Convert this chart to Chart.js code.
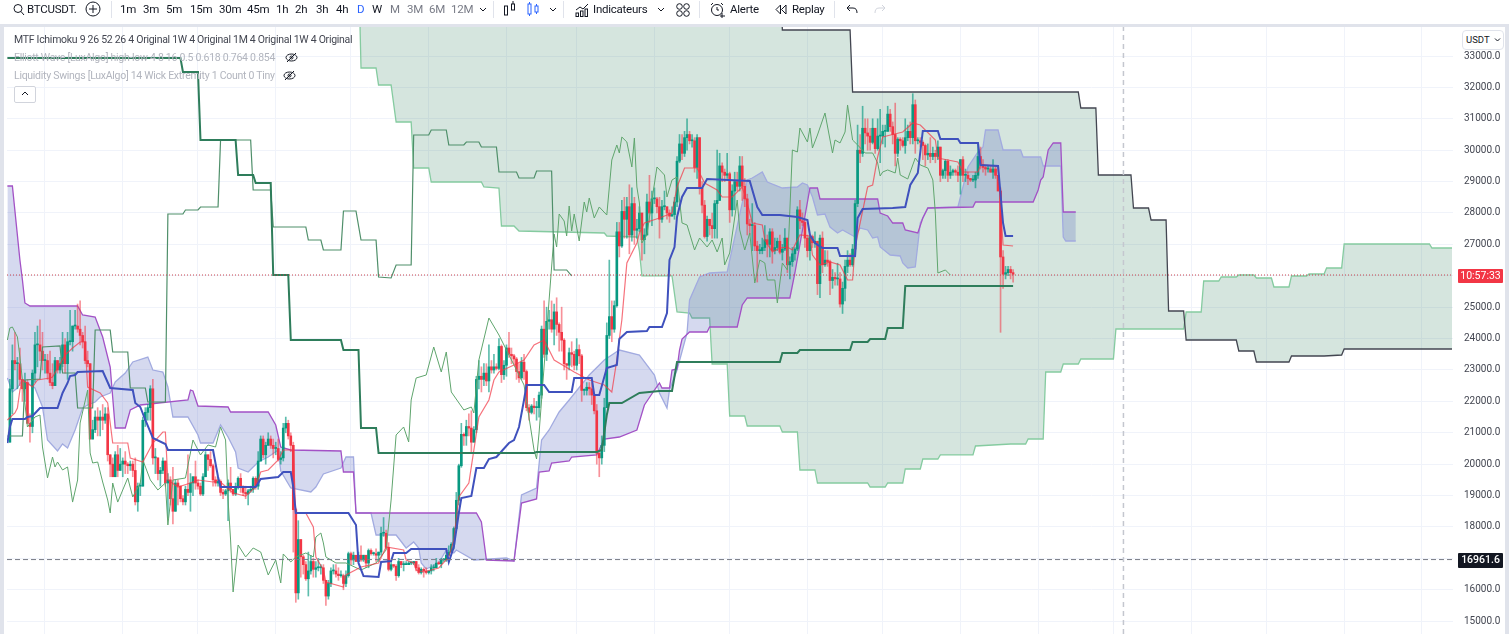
<!DOCTYPE html>
<html>
<head>
<meta charset="utf-8">
<title>BTCUSDT</title>
<script src="https://cdn.jsdelivr.net/npm/chart.js@4/dist/chart.umd.min.js"></script>
<style>
html, body { margin: 0; padding: 0; background: #fff; overflow: hidden; }
body { width: 1509px; height: 634px; position: relative; font-family: Roboto, sans-serif; color: #131722; }
#c { position: absolute; left: 0; top: 0; }
.frame { position: absolute; background: #e0e3eb; }
.t { position: absolute; white-space: nowrap; font-size: 11.5px; letter-spacing: -0.25px; line-height: 14px; top: 2px; }
.sep { position: absolute; top: 1px; width: 1px; height: 17px; background: #e0e3eb; }
.ic { position: absolute; }
.leg { position: absolute; left: 14px; font-size: 10.5px; letter-spacing: -0.28px; line-height: 14px; white-space: nowrap; color: #b2b5be; }
.tag { position: absolute; left: 1458px; width: 45px; height: 14px; line-height: 14px; font-size: 10.5px; color: #fff; text-align: center; border-radius: 1px; }
</style>
</head>
<body>
<canvas id="c" width="1509" height="651"></canvas>
<div class="frame" style="left:0;top:24px;width:1509px;height:3px"></div>
<div class="frame" style="left:0;top:24px;width:4px;height:610px"></div>
<div class="frame" style="left:1505px;top:24px;width:4px;height:610px"></div>

<svg class="ic" style="left:13px;top:3px" width="12" height="13" viewBox="0 0 12 13" fill="none" stroke="#131722"><circle cx="5" cy="5.5" r="4"/><path d="M8 8.5l3 3.5"/></svg>
<div class="t" style="left:27px">BTCUSDT.</div>
<svg class="ic" style="left:85px;top:1px" width="16" height="16" viewBox="0 0 16 16" fill="none" stroke="#131722"><circle cx="8" cy="8" r="7"/><path d="M8 4v8M4 8h8"/></svg>
<div class="sep" style="left:111px"></div>
<div id="intervals"></div>
<svg class="ic" style="left:479px;top:7px" width="8" height="5" viewBox="0 0 8 5" fill="none" stroke="#131722"><path d="M1 1l3 3 3-3"/></svg>
<div class="sep" style="left:493px"></div>
<svg class="ic" style="left:504px;top:1px" width="12" height="16" viewBox="0 0 12 16" fill="none" stroke="#131722"><rect x="0.5" y="5" width="3" height="9"/><rect x="7.5" y="3" width="3" height="6"/><path d="M9 0v3"/></svg>
<svg class="ic" style="left:527px;top:1px" width="12" height="16" viewBox="0 0 12 16" fill="none" stroke="#2962ff"><rect x="1" y="3" width="3" height="10"/><path d="M2.500 1v2M2.500 13v2"/><rect x="8" y="5" width="3" height="6"/><path d="M9.500 3v2M9.500 11v2"/></svg>
<svg class="ic" style="left:549px;top:7px" width="8" height="5" viewBox="0 0 8 5" fill="none" stroke="#131722"><path d="M1 1l3 3 3-3"/></svg>
<div class="sep" style="left:563px"></div>
<svg class="ic" style="left:575px;top:2px" width="14" height="15" viewBox="0 0 14 15" fill="none" stroke="#131722"><path d="M1 8l4-3 3 2 5-5"/><rect x="1" y="11" width="2.500" height="3.500"/><rect x="5.500" y="9" width="2.500" height="5.500"/><rect x="10" y="7" width="2.500" height="7.500"/></svg>
<div class="t" style="left:593px">Indicateurs</div>
<svg class="ic" style="left:657px;top:7px" width="8" height="5" viewBox="0 0 8 5" fill="none" stroke="#131722"><path d="M1 1l3 3 3-3"/></svg>
<svg class="ic" style="left:676px;top:3px" width="14" height="14" viewBox="0 0 14 14" fill="none" stroke="#131722"><circle cx="3.500" cy="3.500" r="2.800"/><circle cx="10.500" cy="3.500" r="2.800"/><circle cx="3.500" cy="10.500" r="2.800"/><circle cx="10.500" cy="10.500" r="2.800"/></svg>
<div class="sep" style="left:699px"></div>
<svg class="ic" style="left:710px;top:2px" width="16" height="16" viewBox="0 0 16 16" fill="none" stroke="#131722"><circle cx="7" cy="8" r="5.500"/><path d="M7 5v3h2M1 3l2-2M11 1l2 2M12 11v5M10 14h5"/></svg>
<div class="t" style="left:730px">Alerte</div>
<svg class="ic" style="left:775px;top:4px" width="12" height="11" viewBox="0 0 12 11" fill="none" stroke="#131722"><path d="M5.500 1L1 5.500 5.500 10zM11 1L6.500 5.500 11 10z"/></svg>
<div class="t" style="left:792px">Replay</div>
<div class="sep" style="left:834px"></div>
<svg class="ic" style="left:846px;top:4px" width="12" height="11" viewBox="0 0 12 11" fill="none" stroke="#131722"><path d="M4 1L1 4l3 3M1 4h6c3 0 4 2 4 5"/></svg>
<svg class="ic" style="left:874px;top:4px" width="12" height="11" viewBox="0 0 12 11" fill="none" stroke="#d1d4dc"><path d="M8 1l3 3-3 3M11 4H5C2 4 1 6 1 9"/></svg>

<div class="leg" style="top:33px;color:#434651">MTF Ichimoku 9 26 52 26 4 Original 1W 4 Original 1M 4 Original 1W 4 Original</div>
<div class="leg" style="top:51px">Elliott Wave [LuxAlgo] high-low 4 8 16 0.5 0.618 0.764 0.854</div>
<svg class="ic" style="left:285px;top:52px" width="13" height="11" viewBox="0 0 13 11" fill="none" stroke="#131722"><ellipse cx="6.500" cy="5.500" rx="5.500" ry="3.500"/><circle cx="6.500" cy="5.500" r="1.500"/><path d="M2 10L11 1"/></svg>
<div class="leg" style="top:69px">Liquidity Swings [LuxAlgo] 14 Wick Extremity 1 Count 0 Tiny</div>
<svg class="ic" style="left:283px;top:70px" width="13" height="11" viewBox="0 0 13 11" fill="none" stroke="#131722"><ellipse cx="6.500" cy="5.500" rx="5.500" ry="3.500"/><circle cx="6.500" cy="5.500" r="1.500"/><path d="M2 10L11 1"/></svg>
<div class="ic" style="left:14px;top:86px;width:20px;height:15px;border:1px solid #d1d4dc;border-radius:2px;background:#fff"></div>
<svg class="ic" style="left:21px;top:91px" width="8" height="5" viewBox="0 0 8 5" fill="none" stroke="#131722"><path d="M1 4l3-3 3 3"/></svg>

<div class="ic" style="left:1462px;top:30px;width:40px;height:18px;border:1px solid #e0e3eb;border-radius:4px;background:#fff;font-size:9.500px;line-height:18px;text-indent:3px">USDT</div>
<svg class="ic" style="left:1494px;top:38px" width="7" height="4" viewBox="0 0 7 4" fill="none" stroke="#131722"><path d="M1 .5l2.500 2.500L6 .5"/></svg>
<div class="tag" style="top:269px;background:#f23645">10:57:33</div>
<div class="tag" style="top:553px;height:15px;background:#131722;font-weight:500">16961.6</div>

<script>
// Bougies journalières, du 18/07/2022 au 22/08/2023, en milliers d'USDT
const closes = [
  22.4,23.3,23.2,23.2,22.7,22.4,22.6,21.3,21.2,22.9,23.8,23.8,23.6,23.3,
  23.3,22.9,22.6,22.5,23.3,23.0,23.2,23.8,23.2,23.9,23.9,24.4,24.4,24.3,24.1,23.9,23.3,23.2,20.8,21.1,21.5,21.4,21.5,21.4,21.6,20.3,20.0,19.6,20.3,19.8,20.0,
  20.1,20.0,19.95,20.0,19.8,18.8,19.3,19.3,21.4,21.65,21.8,22.4,20.2,20.2,19.7,19.8,20.1,19.4,19.5,18.9,18.5,19.4,19.3,18.9,18.8,19.2,19.1,19.4,19.6,19.4,
  19.3,19.05,19.6,20.3,20.15,19.95,19.5,19.4,19.45,19.1,19.05,19.15,19.4,19.2,19.05,19.25,19.55,19.3,19.1,19.05,19.15,19.2,19.55,19.3,20.1,20.8,20.3,20.6,20.8,20.6,20.5,
  20.5,20.15,20.2,21.15,21.3,20.9,20.6,18.55,15.9,17.6,17.05,16.8,16.35,16.6,16.9,16.65,16.7,16.7,16.7,16.3,15.8,16.2,16.6,16.6,16.5,16.45,16.45,16.2,16.45,17.15,
  16.95,17.1,16.9,17.1,16.95,17.1,16.85,17.25,17.15,17.15,17.1,17.2,17.8,17.8,17.35,16.65,16.8,16.75,16.45,16.9,16.8,16.8,16.8,16.85,16.85,16.9,16.7,16.55,16.65,16.6,16.55,
  16.6,16.7,16.7,16.85,16.83,16.95,16.95,17.1,17.2,17.45,17.95,18.85,19.95,20.95,20.9,21.2,21.15,20.7,21.1,22.7,22.8,22.7,22.9,22.65,23.1,23.0,23.1,23.05,23.75,22.85,23.15,
  23.7,23.5,23.45,23.35,22.95,22.75,23.25,22.95,21.8,21.65,21.85,21.8,21.8,22.2,24.3,23.5,24.55,24.6,24.3,24.85,24.45,24.2,23.95,23.2,23.15,23.55,23.5,23.15,
  23.65,23.45,22.35,22.35,22.45,22.4,22.2,21.7,20.35,20.2,20.6,21.8,24.1,24.7,24.3,25.05,27.4,26.95,28.05,27.8,28.2,27.3,28.3,27.45,27.5,28.0,27.15,27.3,28.35,28.0,28.45,
  28.45,28.2,27.8,28.2,28.2,28.0,27.9,27.95,28.35,29.65,30.2,29.9,30.4,30.5,30.3,30.3,29.45,30.4,28.8,28.25,27.25,27.8,27.6,27.5,28.3,28.4,29.5,29.3,29.2,29.25,
  28.1,28.7,29.0,28.85,29.5,28.85,28.45,27.65,27.6,27.6,26.95,26.8,26.8,26.9,27.15,27.0,27.4,26.8,26.9,27.1,26.75,26.85,27.2,26.35,26.45,26.7,26.85,28.1,27.75,27.7,27.2,
  26.8,27.25,27.05,27.1,25.75,27.2,26.35,26.5,26.45,25.85,25.95,25.9,25.9,25.1,25.6,26.3,26.5,26.35,26.85,28.3,30.0,29.9,30.7,30.55,30.45,30.25,30.7,30.05,30.45,30.45,
  30.6,30.6,31.15,30.75,30.5,29.9,30.35,30.3,30.15,30.4,30.6,30.4,31.45,30.3,30.3,30.25,30.15,29.85,29.9,29.8,29.9,29.8,30.1,29.2,29.35,29.65,29.2,29.3,29.35,29.3,29.2,
  29.7,29.2,29.2,29.1,29.05,29.05,29.2,29.8,29.55,29.45,29.4,29.4,29.3,29.4,29.2,28.7,26.6,26.05,26.1,26.2,26.1,26.05
];
const highs = [
  22.7,23.8,24.2,23.4,23.7,22.7,22.9,22.7,21.6,23.0,24.2,24.4,24.6,24.2,
  23.5,23.5,23.6,23.2,23.4,23.3,23.4,24.2,24.0,24.2,24.9,24.4,24.9,25.1,25.2,24.2,24.4,23.6,23.2,21.4,21.7,21.8,21.7,21.9,21.8,21.8,20.3,20.2,20.4,20.6,20.5,
  20.2,20.4,20.05,20.1,20.1,20.2,19.4,19.4,21.5,21.8,21.9,22.5,22.7,20.5,20.2,19.9,20.2,20.1,19.7,19.6,19.9,19.5,19.5,19.3,19.0,19.3,20.3,19.7,19.6,20.1,
  19.5,19.4,19.7,20.4,20.3,20.4,20.0,19.6,19.6,19.5,19.2,19.2,19.5,19.9,19.2,19.4,19.6,19.7,19.3,19.3,19.2,19.3,19.6,19.6,20.4,20.9,20.9,20.7,21.0,20.9,20.8,
  20.7,20.8,20.4,21.3,21.5,21.4,21.0,20.7,18.6,18.2,17.6,17.1,16.9,17.2,17.1,17.0,16.9,17.0,16.8,16.8,16.3,16.3,16.7,16.8,16.8,16.7,16.6,16.5,16.6,17.2,
  17.2,17.2,17.1,17.2,17.4,17.1,17.1,17.3,17.3,17.2,17.3,17.2,18.0,18.3,17.9,17.5,16.9,16.8,16.8,17.0,16.9,16.9,16.9,16.9,16.9,16.9,16.9,16.8,16.7,16.7,16.7,
  16.6,16.8,16.8,17.0,16.9,17.0,17.0,17.2,17.4,17.5,18.0,19.1,20.0,21.3,21.0,21.4,21.6,21.7,21.2,22.8,23.3,23.1,23.2,23.2,23.8,23.3,23.5,23.2,24.0,23.8,23.3,
  23.8,24.2,23.7,23.5,23.4,23.2,23.4,23.5,23.0,21.9,21.9,22.1,22.0,22.3,24.4,25.2,25.0,24.9,25.2,25.1,25.3,24.5,25.0,24.0,23.2,23.7,23.9,23.6,
  24.0,23.8,23.5,22.4,22.6,22.6,22.6,22.0,21.9,20.4,20.9,22.1,24.5,26.5,25.2,25.2,27.7,27.7,28.4,28.5,28.5,28.9,28.8,28.5,27.8,28.2,28.0,27.5,28.6,29.2,28.7,
  28.8,28.5,28.5,28.4,28.7,28.2,28.1,28.2,28.5,29.8,30.5,30.5,30.6,31.0,30.6,30.5,30.4,30.5,30.4,29.0,28.4,27.9,27.8,28.0,28.4,30.0,29.9,29.6,29.4,29.9,
  29.3,28.9,29.3,29.3,29.8,29.8,29.1,28.6,27.8,28.3,27.7,27.1,27.0,27.2,27.6,27.3,27.5,27.5,27.2,27.2,27.3,27.0,27.5,27.2,26.6,26.9,26.9,28.2,28.4,28.0,27.8,
  27.3,27.3,27.3,27.4,27.1,27.3,27.4,26.8,26.8,26.5,26.2,26.1,26.4,26.1,25.8,26.5,26.8,26.7,27.0,28.4,30.8,30.5,31.4,31.0,31.0,30.7,31.0,30.7,31.0,31.3,
  30.8,30.8,31.4,31.3,30.9,31.5,30.4,30.4,30.4,31.0,30.8,30.9,31.8,31.6,30.4,30.4,30.3,30.2,30.2,30.4,30.1,30.0,30.3,30.1,29.4,29.7,29.7,29.5,29.4,29.4,29.5,
  29.7,29.8,29.4,29.3,29.1,29.2,29.3,30.2,30.1,29.7,29.5,29.5,29.5,29.7,29.5,29.2,28.8,26.8,26.3,26.3,26.3,26.2
];
const lows = [
  20.7,21.6,23.0,22.4,22.5,22.0,22.0,21.3,20.7,21.0,22.6,23.1,23.3,23.0,
  22.9,22.7,22.5,22.4,22.5,22.9,22.9,23.1,22.9,22.7,23.8,23.6,24.3,24.2,23.8,23.7,23.2,23.1,20.8,20.8,21.0,20.9,20.9,21.1,21.3,20.1,19.6,19.7,19.6,19.6,19.9,
  19.6,19.7,19.7,19.8,19.6,18.7,18.5,19.0,19.3,21.2,21.4,21.4,20.0,19.7,19.5,19.3,19.7,19.3,18.3,18.7,18.1,18.5,18.7,18.8,18.7,18.7,19.0,18.5,19.0,19.2,
  19.2,19.0,19.0,19.6,19.8,19.9,19.3,19.3,19.3,19.0,18.9,19.0,18.2,19.1,19.0,19.0,19.2,19.1,19.0,18.9,18.7,19.1,19.1,19.2,19.2,20.1,20.2,20.0,20.6,20.5,20.2,
  20.3,20.1,20.0,20.1,21.0,20.8,20.4,17.2,15.6,15.7,16.4,16.5,16.3,15.8,16.5,16.4,16.4,16.6,16.5,16.2,15.5,15.7,16.1,16.5,16.4,16.3,16.4,16.0,16.1,16.4,
  16.8,16.8,16.9,16.9,16.9,16.9,16.7,16.7,17.1,17.1,16.9,16.9,17.1,17.7,17.3,16.6,16.6,16.7,16.3,16.4,16.7,16.6,16.8,16.8,16.8,16.8,16.6,16.5,16.5,16.4,16.5,
  16.5,16.5,16.6,16.7,16.8,16.7,16.9,16.9,17.1,17.2,17.3,17.9,18.7,19.9,20.6,20.6,20.9,20.4,20.7,21.0,22.4,22.3,22.5,22.5,22.3,22.9,22.9,23.0,23.0,22.6,22.7,
  22.8,23.4,23.2,23.2,22.7,22.6,22.7,22.7,21.7,21.4,21.6,21.6,21.4,21.5,22.1,23.4,23.3,24.3,24.2,23.8,24.1,23.6,23.6,23.0,22.7,23.0,23.1,23.0,
  23.0,23.2,22.0,22.2,22.2,22.2,21.9,21.6,20.0,19.6,20.0,20.4,21.9,24.0,23.9,24.2,25.0,26.6,26.9,27.2,27.2,26.7,27.1,27.0,27.2,27.4,26.5,26.7,27.3,27.7,27.6,
  28.3,28.0,27.2,27.7,28.1,27.8,27.7,27.9,27.8,28.2,29.6,29.7,29.8,30.0,30.2,30.1,29.3,29.1,28.6,28.0,27.2,27.1,27.3,27.2,27.2,27.2,28.4,29.0,29.0,29.1,
  27.7,27.9,28.1,28.7,28.7,28.4,28.2,27.3,27.3,26.8,26.8,25.8,26.7,26.7,26.8,26.6,26.6,26.4,26.7,26.8,26.7,26.5,26.8,26.1,25.9,26.3,26.5,26.8,27.5,27.6,26.9,
  26.6,26.5,26.9,26.9,25.4,25.3,26.1,26.3,26.3,25.4,25.6,25.7,25.7,25.0,24.8,25.2,26.1,26.3,26.3,26.6,28.2,29.6,29.8,30.2,30.0,30.0,30.2,29.9,30.0,29.6,
  30.2,30.1,30.6,30.6,30.2,29.5,29.8,30.0,30.1,29.9,30.3,30.2,30.2,29.9,30.2,30.1,29.7,29.5,29.7,29.6,29.7,29.6,29.7,29.0,29.1,29.1,29.0,29.1,29.2,29.2,29.0,
  28.6,29.0,29.0,28.9,29.0,29.0,28.8,29.1,29.4,29.3,29.2,29.3,29.3,29.1,29.1,28.7,24.2,25.6,25.9,26.0,25.9,25.8
];
const firstOpen = 20.7;
const firstCandleDay = -14;   // jours comptés depuis le 01/08/2022

// Lignes Ichimoku : [jour, prix]
const tenkanLine = [[-15,21407],[-12,21630],[-11,21789],[-10,22362],[-9,22681],[-5,22458],[-3,22681],[2,22745],[3,22777],[8,23477],[11,23700],[14,23892],[16,23892],[17,22458],[22,22267],[25,21948],[26,21311],[27,20674],[33,20674],[34,20197],[39,20069],[43,20674],[47,21025],[48,21025],[49,19496],[53,19273],[58,19400],[61,19496],[67,19432],[69,19496],[75,19082],[80,18986],[84,19273],[86,19751],[89,19815],[93,20133],[95,20452],[99,20452],[100,18445],[104,18445],[107,17999],[108,17044],[111,16630],[112,16248],[119,16088],[120,16470],[126,16725],[133,16853],[136,17362],[143,17267],[144,16948],[147,16853],[148,16630],[151,16566],[157,16693],[161,17044],[163,17585],[165,18955],[169,19400],[173,21503],[177,22044],[179,22681],[181,22936],[187,23159],[191,23318],[195,23796],[199,23955],[203,23318],[211,22936],[217,22681],[223,22522],[226,22299],[228,23318],[229,23987],[230,24592],[232,26408],[236,27045],[237,27363],[239,27681],[245,27841],[250,28000],[252,28828],[255,29433],[260,29433],[263,28955],[268,28733],[270,28510],[274,28510],[278,28828],[280,28318],[282,27681],[286,27618],[287,27140],[290,26758],[293,26885],[296,26917],[298,26821],[301,27299],[305,27267],[306,26662],[309,26344],[313,26440],[317,26344],[320,25866],[322,25866],[323,26917],[325,27681],[328,28828],[330,28892],[332,29784],[334,30420],[342,30580],[346,30866],[349,30803],[355,30325],[356,29752],[364,29624],[366,29306],[372,29306],[373,29529],[380,29497],[382,26981],[386,26949]];
const kijunLine = [[-15,20674],[-14,21184],[-13,21439],[-8,21439],[-7,21503],[-5,21534],[-2,21789],[5,21789],[7,22267],[9,22586],[10,22808],[12,22840],[13,22936],[23,22968],[26,22426],[35,22362],[36,21948],[38,21821],[40,21407],[43,20834],[48,20643],[49,20452],[67,20452],[69,19591],[70,19273],[84,19273],[86,19528],[93,19591],[95,19751],[98,19751],[99,19273],[100,18445],[121,18445],[124,18063],[125,16853],[127,16438],[133,16407],[134,16884],[138,16916],[139,17171],[144,17171],[146,17298],[160,17298],[161,16884],[163,17362],[165,18445],[166,18922],[170,18986],[172,19878],[175,19878],[177,20165],[180,20228],[185,20674],[187,20770],[189,21184],[191,22044],[192,22522],[199,22522],[201,22299],[210,22299],[211,22745],[218,22745],[219,22203],[221,22203],[224,23063],[228,23159],[229,23987],[232,24210],[240,24242],[241,24369],[246,24369],[248,24815],[249,26503],[251,26917],[252,27873],[254,28510],[256,28796],[262,28796],[264,29083],[281,29019],[284,28191],[286,27936],[293,27936],[300,27873],[304,27777],[305,27299],[307,27045],[310,26885],[316,26885],[317,26631],[323,26631],[324,27841],[326,28127],[338,28159],[343,28191],[345,28892],[348,29274],[350,30612],[356,30612],[357,30357],[364,30357],[365,30230],[372,30230],[373,29529],[380,29497],[382,27681],[383,27268],[386,27268]];
const chikouLine = [[-15,23955],[-14,24337],[-13,24369],[-11,24051],[-10,23413],[-9,22681],[-7,21184],[-4,21503],[-2,21566],[-1,20547],[1,19560],[3,20228],[4,19910],[5,20069],[7,19815],[9,19910],[11,18793],[13,19496],[14,21311],[17,22362],[18,20356],[19,20037],[21,20069],[23,19432],[25,18858],[26,18445],[27,19400],[29,18793],[31,19178],[33,19560],[35,18955],[38,19400],[39,20133],[42,19496],[45,19178],[48,19400],[49,18063],[51,19496],[56,19560],[59,20770],[62,20293],[65,20611],[68,20547],[70,21184],[72,20770],[73,18858],[74,17585],[75,15929],[77,17426],[80,17044],[83,17330],[86,17203],[89,16471],[92,16948],[94,16216],[95,17140],[98,16885],[100,17044],[104,17171],[107,17044],[108,17681],[110,17808],[111,17490],[112,17044],[116,16853],[120,16853],[126,16630],[132,16853],[136,17267],[138,18858],[140,20930],[143,21184],[145,20706],[146,22044],[148,22745],[152,22840],[155,23732],[158,22936],[160,23573],[162,22299],[167,21726],[170,21821],[171,21630],[173,23318],[177,24656],[181,24114],[186,23318],[191,22522],[195,20452],[196,20165],[197,20993],[198,22044],[201,25229],[203,27331],[204,26917],[205,27968],[207,27745],[208,27268],[209,28223],[210,27427],[211,27968],[213,27108],[215,28350],[216,28032],[217,28478],[219,27841],[221,28191],[224,27936],[226,29688],[228,30166],[229,29911],[230,30420],[232,30261],[234,29465],[235,30389],[236,28828],[237,28318],[238,27045],[240,27299],[242,28414],[244,29465],[247,29210],[248,28510],[250,29051],[252,29147],[254,27681],[256,27618],[259,26821],[261,27204],[264,26917],[266,27140],[268,26758],[270,27204],[271,26344],[273,26726],[276,28414],[277,27459],[279,26821],[281,27363],[283,25770],[285,26503],[287,26408],[288,25866],[291,25866],[292,25134],[294,26408],[296,26185],[298,30007],[300,29943],[301,30707],[304,30261],[305,30707],[306,30070],[308,30484],[311,31185],[314,29911],[315,30325],[317,30230],[319,30580],[320,31440],[322,30325],[324,30166],[327,29911],[330,29911],[332,29593],[333,29178],[334,29306],[336,29370],[339,29274],[340,29752],[341,29210],[344,29083],[347,29752],[349,29529],[352,29433],[354,29051],[355,27998],[356,26089],[359,26185],[361,26025]];
const spanA = [[-15,22745],[-13,22299],[-11,22426],[-9,22681],[-7,22586],[-4,22426],[-1,21821],[1,20770],[5,20420],[7,20643],[9,20516],[12,21088],[15,21789],[17,21885],[20,21980],[22,22140],[26,22267],[28,22617],[32,22904],[35,23254],[41,23413],[43,22999],[47,22936],[49,22458],[51,21503],[57,21503],[61,20930],[62,20674],[67,20674],[70,21248],[73,20866],[76,20388],[77,19878],[81,19751],[85,20069],[89,20228],[93,20452],[94,19783],[98,19241],[106,19114],[108,19273],[111,19687],[118,19878],[120,20228],[123,20228],[124,18445],[130,18445],[132,17744],[140,17744],[144,17330],[147,17521],[149,17330],[150,16853],[152,16662],[157,16853],[160,17267],[163,17171],[164,17267],[171,16948],[184,17012],[187,16916],[190,19018],[196,19241],[198,20770],[201,21088],[205,21662],[209,22044],[217,22840],[223,23318],[229,23636],[237,23477],[243,22840],[245,22267],[248,21789],[249,22362],[252,22999],[256,24178],[257,25229],[261,25962],[265,26089],[272,26121],[280,29051],[282,29115],[286,29306],[288,28987],[294,28796],[300,28828],[302,28955],[304,28892],[306,28510],[308,27936],[311,27968],[313,27554],[316,27363],[318,27459],[323,27236],[325,27522],[328,27459],[330,27204],[332,27236],[333,26917],[337,26662],[341,26631],[342,26408],[344,26248],[347,26280],[349,27681],[352,28159],[364,28191],[368,29465],[372,29943],[374,30102],[375,30644],[380,30644],[382,30007],[389,30007],[390,29784],[397,29784],[398,29497],[405,29497],[406,27236],[407,27108],[411,27108]];
const spanB = [[-15,28860],[-13,28860],[-10,26503],[-9,25866],[-8,25134],[-6,25038],[13,25038],[15,24751],[20,24688],[23,24051],[26,23095],[28,21152],[32,21152],[34,21726],[38,21885],[57,22044],[58,22362],[59,22331],[61,21853],[73,21821],[74,21662],[89,21662],[92,21248],[94,20547],[98,20452],[118,20420],[119,19751],[123,19751],[124,18445],[172,18445],[174,18158],[176,16948],[187,16916],[190,18763],[196,18891],[197,19751],[201,19783],[202,20038],[209,20101],[210,20228],[220,20293],[223,20802],[229,20865],[236,21088],[239,21885],[243,22362],[245,22586],[246,22426],[249,22426],[250,22999],[252,23031],[253,23636],[254,23987],[257,24210],[264,24210],[265,24369],[276,24369],[278,25070],[280,25293],[297,25293],[299,26089],[305,28796],[308,28796],[309,28446],[332,28446],[333,27998],[336,27904],[338,27681],[342,27681],[343,27459],[348,27363],[350,27841],[352,28159],[370,28191],[371,28350],[394,28350],[396,28733],[397,29051],[398,29147],[400,30007],[402,30230],[405,30230],[406,28032],[411,28032]];

// Kumo hebdo/mensuel
const bigSpanA = [[125,36000],[126,32618],[132,32618],[133,32077],[138,32077],[140,30898],[146,30898],[147,29433],[153,29433],[154,28987],[174,28987],[175,28828],[181,28796],[182,27586],[187,27586],[189,27427],[223,27363],[224,27267],[236,27236],[237,26790],[238,26000],[250,26000],[252,24847],[257,24815],[258,24656],[265,24656],[266,23191],[272,23191],[273,21534],[279,21534],[280,21216],[293,21216],[294,21025],[300,21025],[301,19815],[307,19815],[308,19400],[328,19400],[329,19273],[335,19273],[336,19400],[342,19400],[343,19846],[349,19846],[350,20165],[356,20165],[357,20293],[370,20293],[371,20579],[378,20611],[385,20643],[391,20643],[392,20802],[398,20802],[399,22936],[405,22936],[406,23191],[412,23191],[413,23350],[426,23350],[427,24305],[454,24305],[455,24847],[461,24847],[462,25834],[468,25834],[469,25962],[475,25962],[476,26025],[482,26025],[483,25930],[489,25930],[490,25643],[496,25643],[497,25994],[503,25994],[504,26057],[510,26057],[511,26248],[517,26248],[518,27013],[552,27013],[553,26885],[561,26885]];
const bigSpanB = [[125,36000],[293,36000],[294,33828],[321,33828],[322,31854],[412,31854],[413,31344],[419,31344],[420,29210],[433,29210],[434,28159],[440,28159],[441,27777],[447,27777],[448,24879],[454,24879],[455,23955],[475,23955],[476,23605],[482,23605],[483,23254],[496,23254],[497,23445],[510,23445],[517,23477],[518,23668],[561,23668]];
const weeklyKijun = [[-15,32940],[54,32940],[55,32491],[61,32491],[62,30325],[76,30325],[77,29210],[83,29210],[84,28955],[90,28955],[91,26025],[97,26025],[98,23955],[118,23955],[119,23636],[125,23636],[126,21152],[132,21152],[133,20356],[195,20356],[196,20390],[220,20390],[222,20452],[224,21566],[225,21948],[230,21948],[237,22267],[245,22330],[250,22330],[252,23254],[293,23254],[294,23541],[300,23541],[301,23636],[321,23636],[322,23892],[328,23892],[329,23987],[335,23987],[336,24337],[342,24337],[343,25675],[386,25675]];
const weeklyChikou = [[-15,20897],[-9,20897],[-8,22681],[-2,22713],[-1,23732],[6,23764],[7,22904],[12,22904],[13,21789],[19,21789],[20,24273],[26,24273],[27,23573],[33,23573],[34,22426],[40,22426],[41,21980],[48,21980],[49,27968],[55,27968],[56,28096],[61,28096],[62,28191],[69,28191],[70,30325],[82,30325],[83,28733],[90,28733],[91,27554],[104,27554],[105,27140],[110,27140],[111,26821],[118,26821],[119,28064],[124,28064],[126,27140],[132,27140],[133,25962],[138,25930],[140,26344],[146,26344],[147,30484],[153,30484],[154,30644],[160,30644],[161,30166],[167,30166],[168,30261],[173,30261],[174,30102],[180,30102],[181,29306],[188,29306],[189,29115],[195,29115],[196,29338],[202,29338],[203,26185],[208,26185],[210,26000]];

const priceTicks = [15000,16000,17000,18000,19000,20000,21000,22000,23000,24000,25000,26000,27000,28000,29000,30000,31000,32000,33000];
const monthDays = [0,31,61,92,122,153,184,212,243,273,304,334,365,396,426,457,487,518,549];
const lastPrice = 26025;
const hoverPrice = 16961.6;
const hoverDay = 430;
const dayMin = -15.15, dayMax = 561.4;
const priceMin = 14591, priceMax = 33924;

// Barre d'intervalles
const intervals = ['1m','3m','5m','15m','30m','45m','1h','2h','3h','4h','D','W','M','3M','6M','12M'];
const intervalLeft = [120,143,166,190,219,247,276,295,316,336,357,372,390,407,429,451];
const intervalColor = {D: '#2962ff', M: '#787b86', '3M': '#787b86', '6M': '#787b86', '12M': '#787b86'};
intervals.forEach(function(label, i) {
    const el = document.createElement('div');
    el.className = 't';
    el.style.left = intervalLeft[i] + 'px';
    if (intervalColor[label]) el.style.color = intervalColor[label];
    el.textContent = label;
    document.getElementById('intervals').appendChild(el);
});

function toPoints(pairs) {
    return pairs.map(p => ({x: p[0], y: p[1]}));
}

const wickData = [], bodyData = [], wickColors = [], bodyColors = [];
closes.forEach(function(close, i) {
    const open = i === 0 ? firstOpen : closes[i - 1];
    const day = firstCandleDay + i;
    const up = close >= open;
    const top = Math.max(highs[i], open, close);
    const bottom = Math.min(lows[i], open, close);
    wickData.push({x: day, y: [bottom * 1000, top * 1000]});
    bodyData.push({x: day, y: [open * 1000, close * 1000]});
    wickColors.push(up ? 'rgba(8,153,129,0.65)' : 'rgba(242,54,69,0.55)');
    bodyColors.push(up ? '#089981' : '#f23645');
});

function lineSet(pairs, color, width, order, extra) {
    return Object.assign({
        type: 'line',
        data: toPoints(pairs),
        borderColor: color,
        borderWidth: width,
        pointRadius: 0,
        tension: 0,
        fill: false,
        order: order
    }, extra || {});
}

new Chart(document.getElementById('c'), {
    type: 'bar',
    data: {
        datasets: [
            lineSet(bigSpanA, '#85cba0', 1.3, 100, {fill: 1, backgroundColor: 'rgba(46,125,90,0.2)'}),
            lineSet(bigSpanB, '#434651', 1.3, 99),
            lineSet(spanA, '#a2abe0', 1.3, 90, {fill: 3, backgroundColor: 'rgba(63,81,181,0.22)'}),
            lineSet(spanB, '#a352c6', 1.3, 89),
            {data: wickData, backgroundColor: wickColors, barThickness: 1, grouped: false, order: 80},
            {data: bodyData, backgroundColor: bodyColors, barThickness: 2, minBarLength: 1, grouped: false, order: 79},
            lineSet(chikouLine, '#5fa56d', 1, 60),
            lineSet(weeklyChikou, '#4f8f6a', 1.2, 59),
            lineSet(tenkanLine, 'rgba(242,54,69,0.7)', 1.2, 58),
            lineSet(kijunLine, '#3f51bd', 2, 57),
            lineSet(weeklyKijun, '#2e7d5b', 2, 56),
            lineSet([[dayMin, lastPrice], [dayMax, lastPrice]], '#c8424c', 1, 50, {borderDash: [1, 2]}),
            lineSet([[dayMin, hoverPrice], [dayMax, hoverPrice]], '#787b86', 1, 49, {borderDash: [5, 3]}),
            lineSet([[hoverDay, priceMin], [hoverDay, priceMax]], '#c4c7cf', 1.5, 48, {borderDash: [5, 4]})
        ]
    },
    options: {
        responsive: false,
        animation: false,
        events: [],
        layout: {autoPadding: false, padding: {left: 7, top: 27, right: 4, bottom: 0}},
        plugins: {legend: {display: false}, tooltip: {enabled: false}},
        scales: {
            x: {
                type: 'linear',
                min: dayMin,
                max: dayMax,
                offset: false,
                afterFit: function(scale) { scale.height = 0; },
                afterBuildTicks: function(scale) {
                    scale.ticks = monthDays.map(v => ({value: v}));
                },
                ticks: {display: false},
                grid: {color: '#f0f3fa', drawTicks: false, offset: false},
                border: {display: false}
            },
            y: {
                position: 'right',
                min: priceMin,
                max: priceMax,
                afterFit: function(scale) { scale.width = 52; },
                afterBuildTicks: function(scale) {
                    scale.ticks = priceTicks.map(v => ({value: v}));
                },
                ticks: {
                    color: '#434651',
                    padding: 11,
                    font: {family: 'Roboto', size: 10},
                    callback: function(value) { return value.toFixed(1); }
                },
                grid: {color: '#f0f3fa', drawTicks: false},
                border: {display: false}
            }
        }
    }
});
</script>
</body>
</html>
